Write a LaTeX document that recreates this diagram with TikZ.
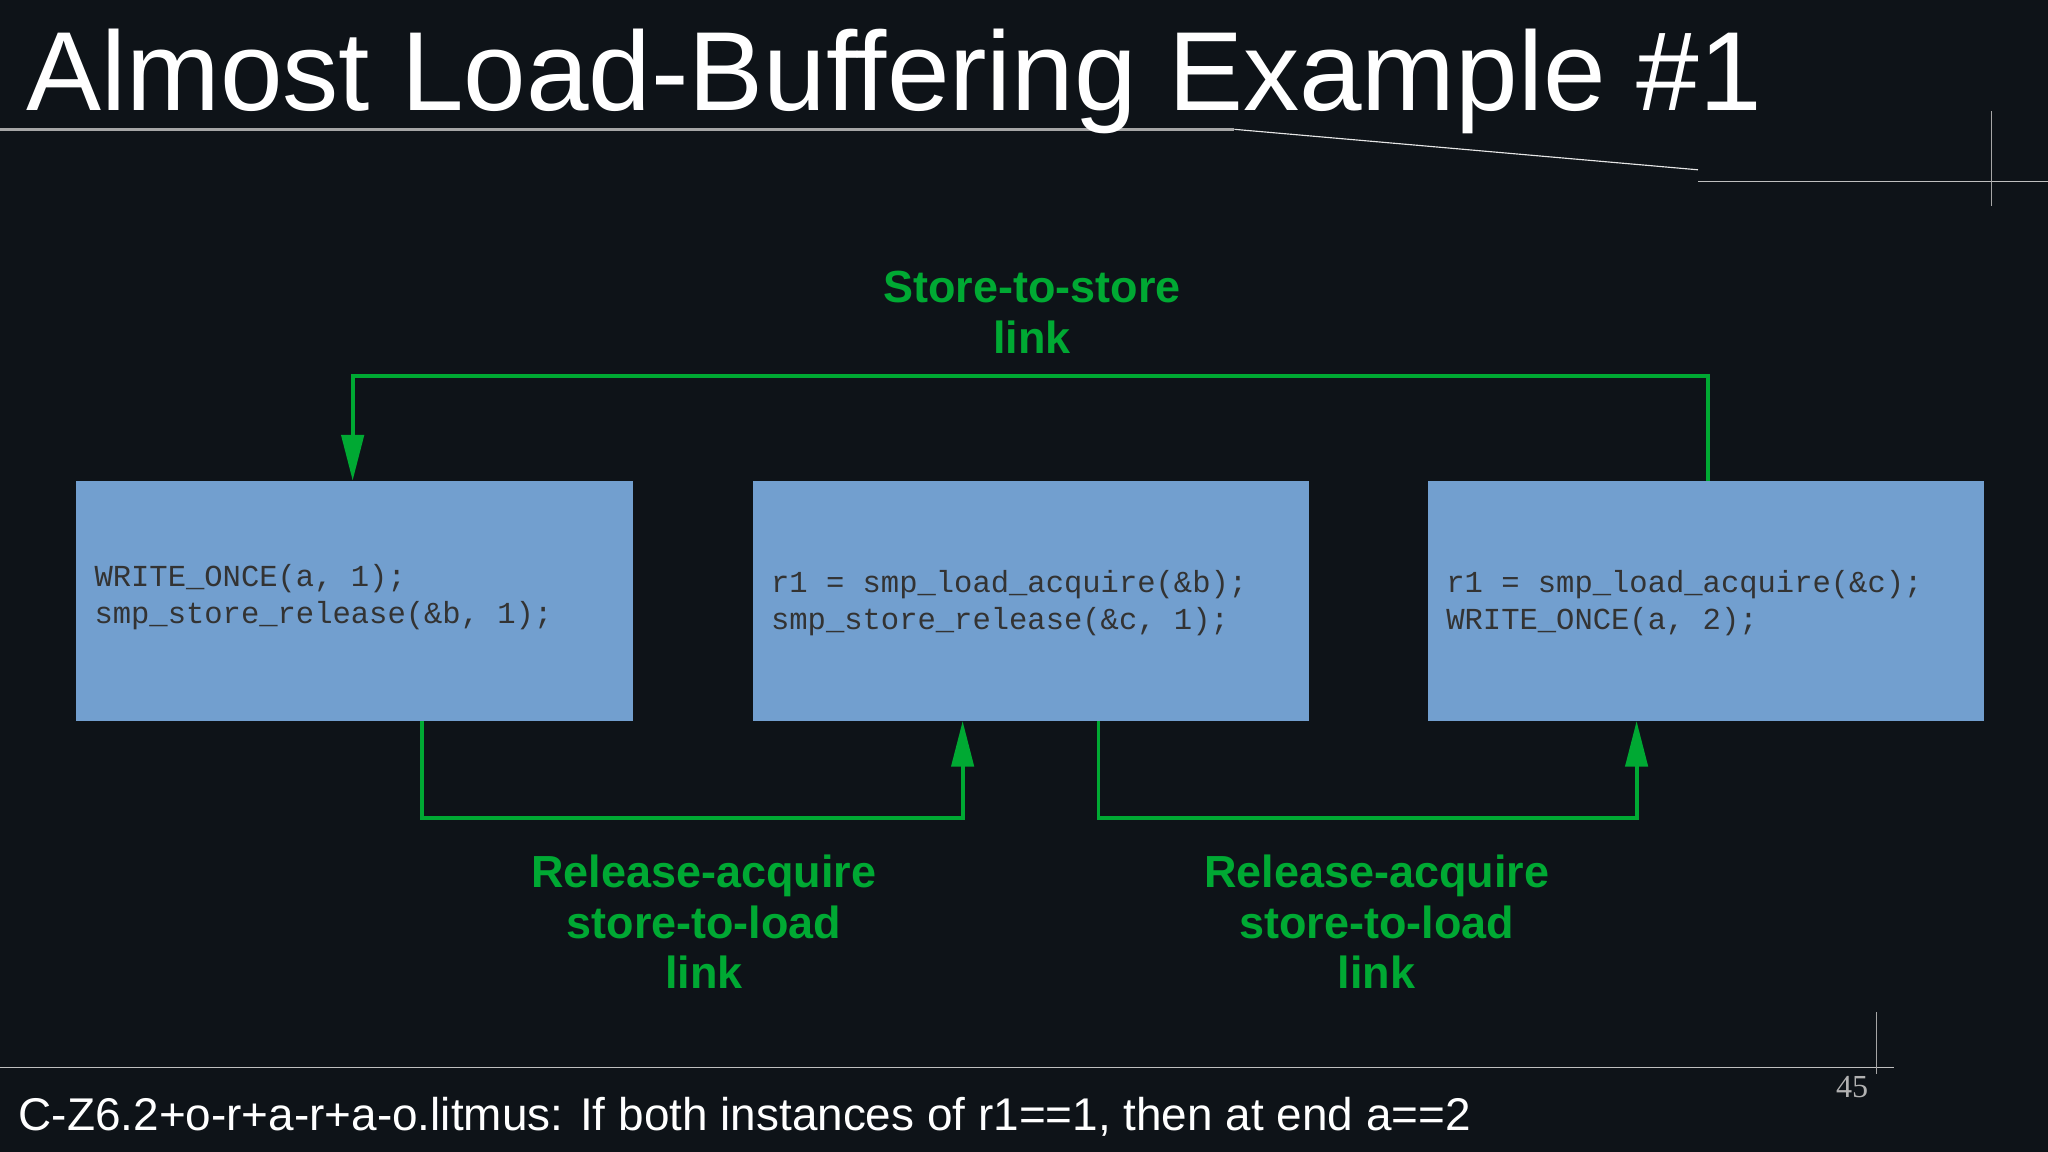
\documentclass[tikz,border=0pt]{standalone}
\usepackage{fontspec}
\setmainfont{Liberation Sans}
\newfontfamily\codefont{Liberation Mono}
\newfontfamily\numfont{Liberation Serif}
\usetikzlibrary{arrows.meta}
\definecolor{bg}{HTML}{0E1318}
\definecolor{boxc}{HTML}{729FCF}
\definecolor{grn}{HTML}{00A933}
\tikzset{
  stmt/.style={fill=boxc,draw=none,minimum width=8.52cm,minimum height=3.68cm,anchor=north west,inner sep=0pt},
  code/.style={font=\codefont\fontsize{13.3}{16}\selectfont,text=black!80,align=left,anchor=west,inner sep=0pt},
  link/.style={draw=grn,line width=0.06cm},
  arr/.style={link,-{Triangle[length=0.7cm,width=0.34cm]}},
  lbl/.style={font=\bfseries\fontsize{19.6}{22}\selectfont,text=grn,align=center},
  deco/.style={draw=gray!70,line width=0.5pt}
}
\begin{document}
\begin{tikzpicture}[x=0.02cm,y=-0.02cm]
\fill[bg] (0,0) rectangle (1568,882);
\useasboundingbox (0,0) rectangle (1568,882);
% decorative lines
\draw[deco,line width=1.2pt] (0,99) -- (945,99);
\draw[deco,gray!20] (945,99) -- (1300,130);
\draw[deco,gray!50] (1300,139) -- (1568,139);
\draw[deco] (1525,85) -- (1525,158);
\draw[deco,gray!50] (0,817) -- (1450,817);
\draw[deco] (1437,775) -- (1437,822);
% title
\node[anchor=west,text=white,font=\fontsize{49}{54}\selectfont,inner sep=0pt] (title) at (20,62) {Almost Load-Buffering Example \#1};
% boxes
\node[stmt] (b1) at (58,368) {};
\node[stmt] (b2) at (576,368) {};
\node[stmt] (b3) at (1093,368) {};
\node[code] (c1) at (72,457) {WRITE\_ONCE(a, 1);\\smp\_store\_release(\&b, 1);};
\node[code] (c2) at (590,462) {r1 = smp\_load\_acquire(\&b);\\smp\_store\_release(\&c, 1);};
\node[code] (c3) at (1107,462) {r1 = smp\_load\_acquire(\&c);\\WRITE\_ONCE(a, 2);};
% connector points
\coordinate (s3) at (1308,368);
\coordinate (t1) at (270,368);
\coordinate (s1) at (323,552);
\coordinate (t2) at (737,552);
\coordinate (s2) at (841,552);
\coordinate (t3) at (1253,552);
\draw[arr] (s3) -- (1308,288) -- (270,288) -- (t1);
\draw[arr] (s1) -- (323,626) -- (737,626) -- (t2);
\draw[arr] (s2) -- (841,626) -- (1253,626) -- (t3);
% labels
\node[lbl] (l1) at (790,239) {Store-to-store\\link};
\node[lbl] (l2) at (539,706) {Release-acquire\\store-to-load\\link};
\node[lbl] (l3) at (1054,706) {Release-acquire\\store-to-load\\link};
% footer
\node[anchor=west,text=white,font=\fontsize{20}{24}\selectfont,inner sep=0pt] (foot) at (14,855) {C-Z6.2+o-r+a-r+a-o.litmus: If both instances of r1==1, then at end a==2};
\node[text=gray!60,font=\numfont\fontsize{14}{16}\selectfont,inner sep=0pt] (num) at (1418,832) {45};
\end{tikzpicture}
\end{document}
